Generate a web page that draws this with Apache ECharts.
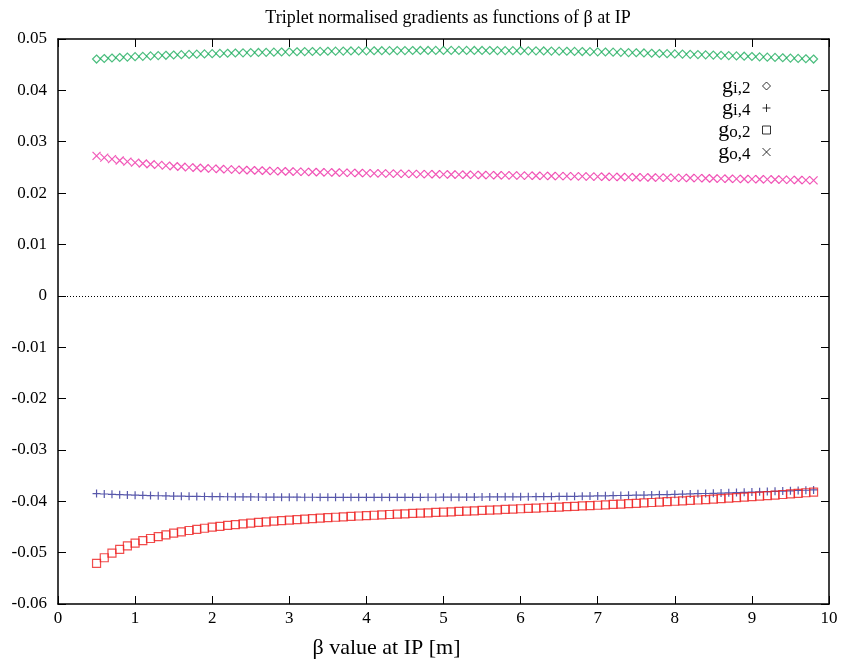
<!DOCTYPE html>
<html>
<head>
<meta charset="utf-8">
<script src="https://cdn.jsdelivr.net/npm/echarts@6/dist/echarts.min.js"></script>
<style>html,body{margin:0;padding:0;background:#fff}#c{width:844px;height:667px}</style>
</head>
<body>
<div id="c"></div>
<script>
// beta at IP [m]
var betaIP = [0.5,0.6,0.7,0.8,0.9,1.0,1.1,1.2,1.3,1.4,1.5,1.6,1.7,1.8,1.9,2.0,2.1,2.2,2.3,2.4,2.5,2.6,2.7,2.8,2.9,3.0,
3.1,3.2,3.3,3.4,3.5,3.6,3.7,3.8,3.9,4.0,4.1,4.2,4.3,4.4,4.5,4.6,4.7,4.8,4.9,5.0,
5.1,5.2,5.3,5.4,5.5,5.6,5.7,5.8,5.9,6.0,6.1,6.2,6.3,6.4,6.5,6.6,6.7,6.8,6.9,7.0,
7.1,7.2,7.3,7.4,7.5,7.6,7.7,7.8,7.9,8.0,8.1,8.2,8.3,8.4,8.5,8.6,8.7,8.8,8.9,9.0,
9.1,9.2,9.3,9.4,9.5,9.6,9.7,9.8];

// g_i,2
var gi2 = [.04610,.04620,.04630,.04640,.04648,.04656,.04663,.04670,.04677,.04683,.04689,.04695,.04700,.04705,.04710,.04715,
.04719,.04723,.04727,.04731,.04735,.04738,.04741,.04744,.04747,.04750,
.04752,.04755,.04757,.04759,.04761,.04763,.04765,.04767,.04768,.04770,
.04771,.04772,.04773,.04774,.04775,.04776,.04777,.04777,.04778,.04778,
.04778,.04778,.04778,.04777,.04777,.04776,.04775,.04774,.04773,.04772,
.04770,.04769,.04767,.04765,.04763,.04761,.04758,.04756,.04753,.04750,
.04747,.04743,.04740,.04736,.04732,.04728,.04723,.04718,.04714,.04710,
.04706,.04702,.04697,.04692,.04687,.04682,.04677,.04671,.04665,.04659,
.04653,.04647,.04641,.04635,.04629,.04622,.04616,.04610];

// g_i,4
var gi4 = [-.03850,-.03858,-.03865,-.03871,-.03876,-.03881,-.03885,-.03889,-.03892,-.03895,-.03898,-.03901,-.03903,-.03905,-.03907,-.03909,
-.03911,-.03912,-.03914,-.03915,-.03916,-.03917,-.03918,-.03919,-.03920,-.03921,
-.03921,-.03922,-.03922,-.03923,-.03923,-.03923,-.03924,-.03924,-.03924,-.03924,
-.03924,-.03924,-.03924,-.03924,-.03923,-.03923,-.03923,-.03922,-.03922,-.03921,
-.03920,-.03920,-.03919,-.03918,-.03917,-.03916,-.03915,-.03914,-.03914,-.03913,
-.03912,-.03911,-.03909,-.03908,-.03906,-.03905,-.03903,-.03901,-.03898,-.03895,
-.03893,-.03890,-.03888,-.03885,-.03882,-.03879,-.03876,-.03872,-.03869,-.03865,
-.03861,-.03857,-.03853,-.03849,-.03845,-.03840,-.03836,-.03831,-.03826,-.03821,
-.03816,-.03811,-.03806,-.03801,-.03796,-.03790,-.03785,-.03779];

// g_o,2
var go2 = [-.05210,-.05100,-.05010,-.04935,-.04870,-.04815,-.04768,-.04725,-.04687,-.04653,-.04622,-.04594,-.04569,-.04546,-.04525,-.04505,
-.04487,-.04470,-.04454,-.04439,-.04425,-.04412,-.04400,-.04388,-.04377,-.04366,
-.04356,-.04346,-.04337,-.04328,-.04319,-.04311,-.04303,-.04295,-.04287,-.04280,
-.04272,-.04265,-.04258,-.04251,-.04244,-.04237,-.04231,-.04224,-.04218,-.04211,
-.04205,-.04198,-.04192,-.04185,-.04179,-.04172,-.04166,-.04159,-.04153,-.04146,
-.04140,-.04133,-.04126,-.04119,-.04112,-.04105,-.04098,-.04091,-.04084,-.04077,
-.04070,-.04062,-.04055,-.04047,-.04040,-.04032,-.04024,-.04016,-.04008,-.04000,
-.03992,-.03983,-.03975,-.03966,-.03957,-.03948,-.03939,-.03930,-.03920,-.03910,
-.03900,-.03890,-.03879,-.03868,-.03857,-.03846,-.03834,-.03822];

// g_o,4
var go4 = [.02726,.02690,.02660,.02635,.02613,.02594,.02577,.02562,.02548,.02535,.02523,.02512,.02502,.02493,.02484,.02476,
.02469,.02462,.02456,.02450,.02444,.02439,.02434,.02429,.02425,.02421,
.02417,.02413,.02410,.02406,.02403,.02400,.02397,.02394,.02391,.02388,
.02385,.02383,.02380,.02378,.02375,.02373,.02370,.02368,.02366,.02363,
.02361,.02359,.02357,.02354,.02352,.02350,.02348,.02346,.02344,.02341,
.02339,.02337,.02335,.02333,.02331,.02329,.02326,.02324,.02322,.02320,
.02318,.02316,.02313,.02311,.02309,.02307,.02304,.02302,.02300,.02297,
.02295,.02293,.02290,.02288,.02285,.02283,.02280,.02278,.02275,.02272,
.02270,.02267,.02264,.02261,.02258,.02255,.02252,.02249];

var seriesNames = ['gi2','gi4','go2','go4'];
var seriesSub = ['i,2','i,4','o,2','o,4'];
var seriesValues = [gi2, gi4, go2, go4];
var seriesColors = ['#1fae5f','#2e2e96','#ee2020','#ee2ea6'];
var plusPath = 'path://M0,5L10,5M5,0L5,10';
var crossPath = 'path://M0,0L10,10M10,0L0,10';
var seriesSymbols = ['diamond', plusPath, 'rect', crossPath];

function pairs(vals){ return betaIP.map(function(x,i){ return [x, vals[i]]; }); }

var serif = 'Liberation Serif';
var series = seriesNames.map(function(n, k){
  var s = {
    name: n, type: 'scatter', xAxisIndex: 0, yAxisIndex: 0,
    data: pairs(seriesValues[k]),
    symbol: seriesSymbols[k], symbolSize: 8,
    itemStyle: { color: 'rgba(0,0,0,0)', borderColor: seriesColors[k], borderWidth: 1.2 },
    emphasis: { disabled: true }, z: 3
  };
  if (k === 0) {
    s.markLine = { silent: true, symbol: 'none', label: { show: false },
      lineStyle: { type: [1, 2], color: '#000', width: 1 },
      data: [{ yAxis: 0 }] };
  }
  return s;
});

var rich = {
  g: { fontFamily: serif, fontSize: 22, color: '#000', verticalAlign: 'middle', lineHeight: 22 },
  s: { fontFamily: serif, fontSize: 17, color: '#000', verticalAlign: 'bottom', lineHeight: 17, padding: [0, 7, 0, 0] }
};

var axisLineStyle = { show: true, onZero: false, lineStyle: { color: '#000', width: 1.5 } };
var tickStyle = { show: true, inside: true, length: 8, lineStyle: { color: '#000', width: 1 } };

var option = {
  animation: false,
  backgroundColor: '#fff',
  title: {
    text: 'Triplet normalised gradients as functions of β at IP',
    left: 443, top: 4, textAlign: 'center',
    textStyle: { fontFamily: serif, fontSize: 18, fontWeight: 'normal', color: '#000' }
  },
  grid: { left: 58, right: 15, top: 39, bottom: 63 },
  legend: {
    orient: 'vertical', right: 68, top: 70, align: 'right',
    itemWidth: 8, itemHeight: 8, itemGap: 0,
    selectedMode: false,
    data: seriesNames.map(function(n, k){
      return { name: n, icon: seriesSymbols[k],
        itemStyle: { color: 'rgba(0,0,0,0)', borderColor: '#000', borderWidth: 1 } };
    }),
    formatter: function(name){ return '{g|g}{s|' + seriesSub[seriesNames.indexOf(name)] + '}'; },
    textStyle: { rich: rich }
  },
  xAxis: [{
    type: 'value', min: 0, max: 10, interval: 1, position: 'bottom',
    name: 'β value at IP [m]', nameLocation: 'middle', nameGap: 33,
    nameTextStyle: { fontFamily: serif, fontSize: 22, color: '#000', padding: [0, 114, 0, 0] },
    axisLine: axisLineStyle, axisTick: tickStyle, splitLine: { show: false },
    axisLabel: { fontFamily: serif, fontSize: 17, color: '#000', margin: 6 }
  }, {
    type: 'value', min: 0, max: 10, interval: 1, position: 'top',
    axisLine: axisLineStyle, axisTick: tickStyle, splitLine: { show: false },
    axisLabel: { show: false }
  }],
  yAxis: [{
    type: 'value', min: -0.06, max: 0.05, interval: 0.01, position: 'left',
    axisLine: axisLineStyle, axisTick: tickStyle, splitLine: { show: false },
    axisLabel: { fontFamily: serif, fontSize: 17, color: '#000', margin: 11,
      formatter: function(v){ var r = Math.round(v*100)/100; return r === 0 ? '0' : String(r); } }
  }, {
    type: 'value', min: -0.06, max: 0.05, interval: 0.01, position: 'right',
    axisLine: axisLineStyle, axisTick: tickStyle, splitLine: { show: false },
    axisLabel: { show: false }
  }],
  series: series
};

var chart = echarts.init(document.getElementById('c'), null, { renderer: 'canvas' });
chart.setOption(option);
</script>
</body>
</html>
